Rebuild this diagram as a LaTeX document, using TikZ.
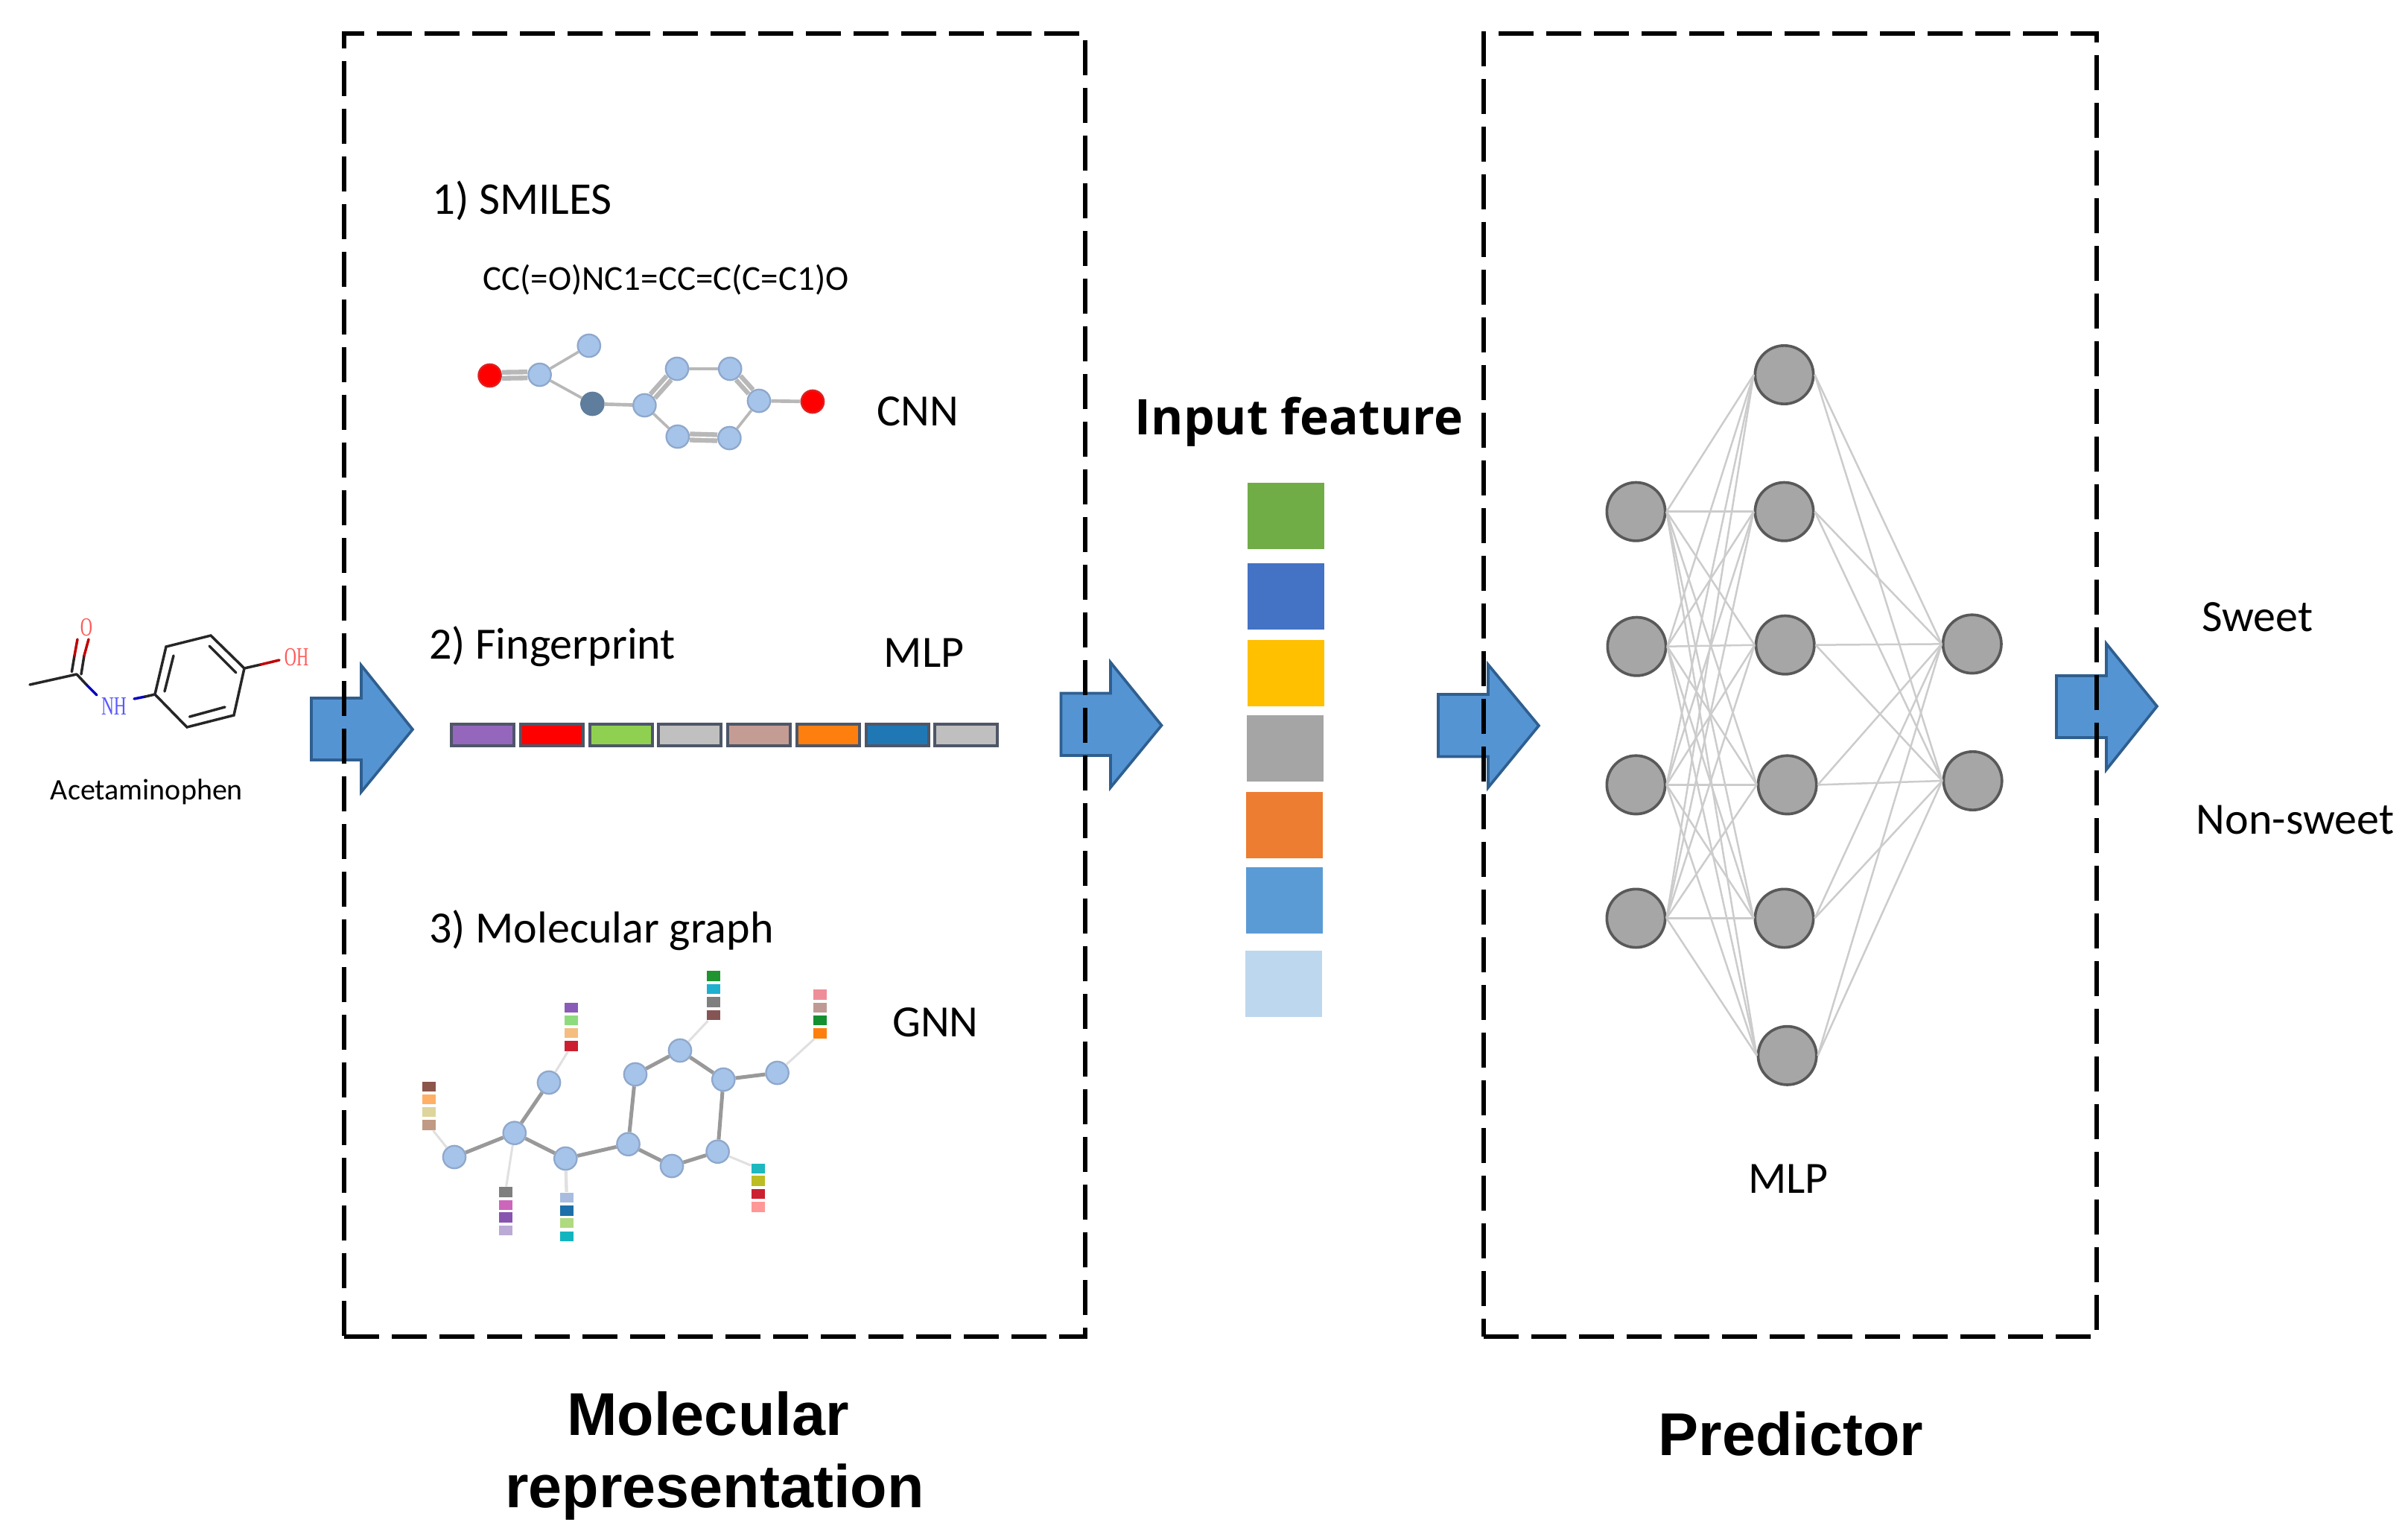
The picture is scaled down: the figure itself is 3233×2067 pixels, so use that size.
\documentclass[tikz,border=0pt]{standalone}
\usepackage{fontspec}
\setmainfont{Carlito}
\newfontfamily\arialfont{Liberation Sans}
\newfontfamily\openfont{Open Sans}
\newfontfamily\serifchem{Liberation Serif}
\newcommand{\sz}[1]{\pgfmathsetmacro{\myfs}{#1*0.3}\fontsize{\myfs pt}{\myfs pt}\selectfont}
\definecolor{arrowfill}{HTML}{5594D3}
\definecolor{arrowline}{HTML}{2F5F8F}
\definecolor{atomfill}{HTML}{A6C4EA}
\definecolor{atomline}{HTML}{8FA8CC}
\definecolor{darkatomfill}{HTML}{5F7D9C}
\definecolor{barline}{HTML}{4E5668}
\tikzset{
  txt/.style={inner sep=0pt,anchor=base,text=black},
  dashbox/.style={draw=black,line width=1.8pt,dash pattern=on 14pt off 5.2pt,inner sep=0pt},
  blockarrow/.style={draw=arrowline,fill=arrowfill,line width=1.1pt,line join=miter},
  atom/.style={circle,inner sep=0pt,minimum size=9.1pt,fill=atomfill,draw=atomline,line width=.7pt},
  redatom/.style={atom,fill=red,draw=red!75!gray},
  darkatom/.style={atom,fill=darkatomfill,draw=darkatomfill},
  bond/.style={draw=black!28,line width=1.1pt},
  dbond/.style={draw=black!28,line width=1.9pt,double=white,double distance=.5pt},
  gbond/.style={draw=black!40,line width=1.5pt},
  fline/.style={draw=black!12,line width=.9pt},
  feat/.style={inner sep=0pt,minimum width=18*0.3pt,minimum height=13.5*0.3pt},
  stackbox/.style={inner sep=0pt,minimum width=103*0.3pt,minimum height=89*0.3pt},
  barbox/.style={inner sep=0pt,draw=barline,line width=1.2pt,minimum width=84*0.3pt,minimum height=29*0.3pt},
  neuron/.style={circle,inner sep=0pt,minimum size=23.5pt,fill=black!35,draw=black!65,line width=1.1pt},
  nnedge/.style={draw=black!20,line width=.75pt},
  chem/.style={draw=black!85,line width=1.05pt,line cap=round},
}
\begin{document}
\begin{tikzpicture}[x=0.3pt,y=-0.3pt]
\useasboundingbox[fill=white] (0,0) rectangle (3233,2067);

% ---- skeletal molecule
\coordinate (ch3) at (40,919);
\coordinate (cc) at (103,905);
\coordinate (r1) at (208,932);
\coordinate (r2) at (223,868);
\coordinate (r3) at (283,853);
\coordinate (r4) at (328,897);
\coordinate (r5) at (314,960);
\coordinate (r6) at (251,976);
\draw[chem] (ch3) -- (cc);
\draw[chem] (r1) -- (r2) -- (r3) -- (r4) -- (r5) -- (r6) -- cycle;
\draw[chem] (221,928) -- (233,880);
\draw[chem] (281,867) -- (317,903);
\draw[chem] (302,949) -- (254.5,962);
\draw[chem] (96.4,901.7) -- (100,880);
\draw[chem,draw=red!75!black] (100,880) -- (104,858);
\draw[chem] (109,905) -- (113,880);
\draw[chem,draw=red!75!black] (113,880) -- (119,858);
\draw[chem] (cc) -- (117,920);
\draw[chem,draw=blue!75!black] (117,920) -- (130,933);
\draw[chem,draw=blue!75!black] (180,938) -- (195,935);
\draw[chem] (195,935) -- (r1);
\draw[chem] (r4) -- (350,892);
\draw[chem,draw=red!75!black] (350,892) -- (375,886);
\node[txt,text=red!65!white] (oxy) at (116,853) {\serifchem\sz{35}\scalebox{.64}[1]{O}};
\node[txt,text=blue!65!white] (nh) at (153,959) {\serifchem\sz{35}\scalebox{.67}[1]{NH}};
\node[txt,text=red!65!white] (oh) at (398,893) {\serifchem\sz{35}\scalebox{.64}[1]{OH}};
\node[txt] (acet) at (197,1073) {\sz{40}Acetaminophen};

% ---- block arrows (under the dashed frames)
\path[blockarrow] (418,937) -- (485,937) -- (485,893) -- (554,979) -- (485,1063) -- (485,1020) -- (418,1020) -- cycle;
\path[blockarrow] (1424.5,930.5) -- (1491,930.5) -- (1491,889) -- (1559.5,973.6) -- (1491,1057) -- (1491,1014) -- (1424.5,1014) -- cycle;
\path[blockarrow] (1931,932) -- (1998,932) -- (1998,892) -- (2066,974) -- (1998,1057) -- (1998,1015.5) -- (1931,1015.5) -- cycle;
\path[blockarrow] (2761,907) -- (2828,907) -- (2828,864) -- (2896,948) -- (2828,1033) -- (2828,990) -- (2761,990) -- cycle;

% ---- dashed frames
\node[dashbox,minimum width=995*0.3pt,minimum height=1749*0.3pt] (framerep) at (959.5,919.5) {};
\node[dashbox,minimum width=823*0.3pt,minimum height=1749*0.3pt] (framepred) at (2403.5,919.5) {};

% ---- SMILES
\node[txt] (t1) at (701,287) {\sz{61}1) SMILES};
\node[txt] (smi) at (894,389) {\sz{47}CC(=O)NC1=CC=C(C=C1)O};
\node[txt] (cnn) at (1232,571) {\sz{60}CNN};
\node[redatom] (ao1) at (657.6,504) {};
\node[atom] (ac1) at (724.6,503) {};
\node[atom] (ac2) at (790.8,464) {};
\node[darkatom] (an) at (795.4,542) {};
\node[atom] (aa) at (865.4,544) {};
\node[atom] (ab) at (909,495) {};
\node[atom] (ac) at (980.2,495) {};
\node[atom] (ad) at (1019,538) {};
\node[atom] (ae) at (979.4,588) {};
\node[atom] (af) at (909.8,586) {};
\node[redatom] (ao2) at (1091,539) {};
\draw[dbond] (ao1) -- (ac1);
\draw[bond] (ac1) -- (ac2);
\draw[bond] (ac1) -- (an);
\draw[bond,line width=1.4pt] (an) -- (aa);
\draw[dbond] (aa) -- (ab);
\draw[bond,line width=1.4pt] (ab) -- (ac);
\draw[dbond] (ac) -- (ad);
\draw[bond] (ad) -- (ae);
\draw[dbond] (ae) -- (af);
\draw[bond] (af) -- (aa);
\draw[bond,line width=1.4pt] (ad) -- (ao2);

% ---- fingerprint
\node[txt] (t2) at (741.5,884) {\sz{60}2) Fingerprint};
\node[txt] (mlpa) at (1240.5,895) {\sz{60}MLP};
\node[barbox,fill={rgb,255:red,148;green,103;blue,189}] (b1) at (648,986.5) {};
\node[barbox,fill=red] (b2) at (741,986.5) {};
\node[barbox,fill={rgb,255:red,144;green,208;blue,80}] (b3) at (833.5,986.5) {};
\node[barbox,fill={rgb,255:red,192;green,192;blue,192}] (b4) at (926,986.5) {};
\node[barbox,fill={rgb,255:red,196;green,156;blue,148}] (b5) at (1019,986.5) {};
\node[barbox,fill={rgb,255:red,255;green,127;blue,14}] (b6) at (1111.5,986.5) {};
\node[barbox,fill={rgb,255:red,31;green,119;blue,180}] (b7) at (1204.5,986.5) {};
\node[barbox,fill={rgb,255:red,191;green,191;blue,191}] (b8) at (1297,986.5) {};

% ---- molecular graph
\node[txt] (t3) at (807.5,1265) {\sz{60}3) Molecular graph};
\node[txt] (gnn) at (1256,1391) {\sz{60}GNN};
\node[atom] (n1) at (610,1553) {};
\node[atom] (n2) at (690.8,1520.7) {};
\node[atom] (n3) at (737,1453) {};
\node[atom] (n4) at (759.3,1555) {};
\node[atom] (n5) at (843.5,1535.7) {};
\node[atom] (n6) at (853,1442) {};
\node[atom] (n7) at (913,1410) {};
\node[atom] (n8) at (971.3,1449) {};
\node[atom] (n9) at (1043.6,1440) {};
\node[atom] (n10) at (963.6,1545.7) {};
\node[atom] (n11) at (902,1565) {};
\foreach \p/\q in {n1/n2,n2/n3,n2/n4,n4/n5,n5/n6,n6/n7,n7/n8,n8/n9,n8/n10,n10/n11,n11/n5}
  \draw[gbond] (\p) -- (\q);
% feature squares: stack A
\node[feat,fill={rgb,255:red,140;green,86;blue,75}] (fa1) at (575.6,1458.3) {};
\node[feat,fill={rgb,255:red,255;green,176;blue,102}] (fa2) at (575.6,1475.7) {};
\node[feat,fill={rgb,255:red,221;green,213;blue,156}] (fa3) at (575.6,1492.3) {};
\node[feat,fill={rgb,255:red,192;green,154;blue,133}] (fa4) at (575.6,1510) {};
% stack B
\node[feat,fill={rgb,255:red,138;green,92;blue,184}] (fb1) at (767,1352.3) {};
\node[feat,fill={rgb,255:red,142;green,219;blue,126}] (fb2) at (767,1369.3) {};
\node[feat,fill={rgb,255:red,244;green,190;blue,128}] (fb3) at (767,1386.7) {};
\node[feat,fill={rgb,255:red,204;green,32;blue,48}] (fb4) at (767,1404) {};
% stack C
\node[feat,fill={rgb,255:red,127;green,127;blue,127}] (fc1) at (678.5,1600) {};
\node[feat,fill={rgb,255:red,204;green,102;blue,187}] (fc2) at (678.5,1617.3) {};
\node[feat,fill={rgb,255:red,135;green,85;blue,176}] (fc3) at (678.5,1634) {};
\node[feat,fill={rgb,255:red,187;green,170;blue,213}] (fc4) at (678.5,1651.7) {};
% stack D
\node[feat,fill={rgb,255:red,168;green,188;blue,223}] (fd1) at (760.8,1607.3) {};
\node[feat,fill={rgb,255:red,28;green,111;blue,168}] (fd2) at (760.8,1625) {};
\node[feat,fill={rgb,255:red,176;green,218;blue,128}] (fd3) at (760.8,1641.7) {};
\node[feat,fill={rgb,255:red,18;green,181;blue,191}] (fd4) at (760.8,1659.3) {};
% stack E
\node[feat,fill={rgb,255:red,31;green,148;blue,48}] (fe1) at (957.5,1310) {};
\node[feat,fill={rgb,255:red,31;green,176;blue,208}] (fe2) at (957.5,1327.7) {};
\node[feat,fill={rgb,255:red,127;green,127;blue,127}] (fe3) at (957.5,1345) {};
\node[feat,fill={rgb,255:red,133;green,85;blue,85}] (fe4) at (957.5,1362.7) {};
% stack F
\node[feat,fill={rgb,255:red,238;green,142;blue,153}] (ff1) at (1101.4,1335) {};
\node[feat,fill={rgb,255:red,191;green,154;blue,148}] (ff2) at (1101.4,1352.3) {};
\node[feat,fill={rgb,255:red,21;green,144;blue,48}] (ff3) at (1101.4,1369.3) {};
\node[feat,fill={rgb,255:red,255;green,127;blue,14}] (ff4) at (1101.4,1387) {};
% stack G
\node[feat,fill={rgb,255:red,29;green,184;blue,192}] (fg1) at (1018,1568.3) {};
\node[feat,fill={rgb,255:red,188;green,189;blue,34}] (fg2) at (1018,1585) {};
\node[feat,fill={rgb,255:red,204;green,32;blue,48}] (fg3) at (1018,1602.3) {};
\node[feat,fill={rgb,255:red,255;green,152;blue,150}] (fg4) at (1018,1620) {};
\draw[fline] (n1) -- (fa4);
\draw[fline] (n3) -- (fb4);
\draw[fline] (n2) -- (fc1);
\draw[fline,line width=1.3pt] (n4) -- (fd1);
\draw[fline] (n7) -- (fe4);
\draw[fline] (n9) -- (ff4);
\draw[fline] (n10) -- (fg1);

% ---- input feature
\node[txt] (inp) at (1744,583) {\openfont\bfseries\sz{66}Input feature};
\node[stackbox,fill={rgb,255:red,112;green,173;blue,71}] (s1) at (1726.5,692.3) {};
\node[stackbox,fill={rgb,255:red,68;green,114;blue,196}] (s2) at (1726.5,800.5) {};
\node[stackbox,fill={rgb,255:red,255;green,192;blue,0}] (s3) at (1726.5,903.5) {};
\node[stackbox,fill={rgb,255:red,165;green,165;blue,165}] (s4) at (1725.8,1004.5) {};
\node[stackbox,fill={rgb,255:red,237;green,125;blue,49}] (s5) at (1724.3,1107.5) {};
\node[stackbox,fill={rgb,255:red,91;green,155;blue,213}] (s6) at (1724.3,1208.5) {};
\node[stackbox,fill={rgb,255:red,189;green,215;blue,238}] (s7) at (1723.8,1320) {};

% ---- neural network
\node[neuron] (ia) at (2196.5,686.7) {};
\node[neuron] (ib) at (2197.5,867.7) {};
\node[neuron] (ic) at (2196.5,1053.4) {};
\node[neuron] (id) at (2196.5,1232.5) {};
\node[neuron] (ha) at (2395.5,503) {};
\node[neuron] (hb) at (2395.5,686.7) {};
\node[neuron] (hc) at (2396.7,865.7) {};
\node[neuron] (hd) at (2399.6,1053.4) {};
\node[neuron] (he) at (2395.5,1232.5) {};
\node[neuron] (hf) at (2399.6,1416.8) {};
\node[neuron] (oa) at (2647.8,864.4) {};
\node[neuron] (ob) at (2648.6,1048) {};
\foreach \p in {ia,ib,ic,id}
  \foreach \q in {ha,hb,hc,hd,he,hf}
    \draw[nnedge] (\p.east) -- (\q.west);
\foreach \p in {ha,hb,hc,hd,he,hf}
  \foreach \q in {oa,ob}
    \draw[nnedge] (\p.east) -- (\q.west);
\node[txt] (mlpb) at (2401,1601) {\sz{60}MLP};

% ---- outputs and captions
\node[txt] (sweet) at (3031,847) {\sz{60}Sweet};
\node[txt] (nonsweet) at (3081.5,1119) {\sz{60}Non-sweet};
\node[txt] (cap1a) at (950.5,1926) {\arialfont\bfseries\sz{81}Molecular};
\node[txt] (cap1b) at (959.5,2023) {\arialfont\bfseries\sz{81}representation};
\node[txt] (cap2) at (2404.5,1953) {\arialfont\bfseries\sz{81}Predictor};
\end{tikzpicture}
\end{document}
